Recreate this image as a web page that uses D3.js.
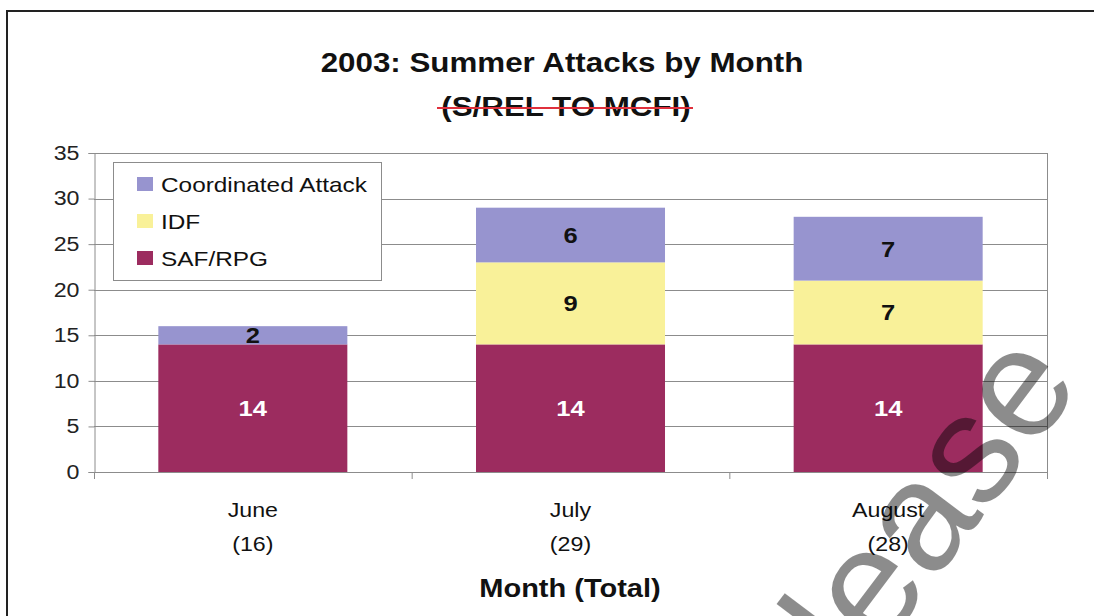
<!DOCTYPE html>
<html>
<head>
<meta charset="utf-8">
<script src="https://cdn.jsdelivr.net/npm/d3@7"></script>
<style>
  html, body { margin: 0; padding: 0; background: #fff; }
  svg { display: block; font-family: "Liberation Sans", Arial, sans-serif; }
</style>
</head>
<body>
<svg id="chart" width="1094" height="616"></svg>
<script>
// Monthly attack counts, stacked by attack type
const months = ["June", "July", "August"];
const seriesNames = ["SAF/RPG", "IDF", "Coordinated Attack"];
const safRpg = [14, 14, 14];
const idf = [0, 9, 7];
const coordinated = [2, 6, 7];
const yTicks = [0, 5, 10, 15, 20, 25, 30, 35];
const legendOrder = ["Coordinated Attack", "IDF", "SAF/RPG"];

const colors = {
  "SAF/RPG": "#9c2c5f",
  "IDF": "#f9f199",
  "Coordinated Attack": "#9794cf"
};
const labelColors = { "SAF/RPG": "#ffffff", "IDF": "#111", "Coordinated Attack": "#111" };

const rows = months.map((m, i) => ({
  month: m,
  "SAF/RPG": safRpg[i],
  "IDF": idf[i],
  "Coordinated Attack": coordinated[i]
}));
const totals = rows.map(r => seriesNames.reduce((s, k) => s + r[k], 0));

const svg = d3.select("#chart");
const SX = 1.16; // horizontal stretch applied to text

const plot = { left: 94, right: 1047, top: 153, bottom: 472 };

const x = d3.scaleBand()
  .domain(months)
  .range([plot.left, plot.right])
  .paddingInner(0.405)
  .paddingOuter(0.2025);

const y = d3.scaleLinear()
  .domain([0, 35])
  .range([plot.bottom, plot.top]);

// Outer frame
svg.append("rect")
  .attr("x", 7).attr("y", 11)
  .attr("width", 1200).attr("height", 800)
  .attr("fill", "#fff")
  .attr("stroke", "#222").attr("stroke-width", 2);

// Title
svg.append("text").attr("class", "s")
  .attr("x", 562).attr("y", 72)
  .attr("text-anchor", "middle")
  .attr("font-size", 27).attr("font-weight", "bold").attr("fill", "#111")
  .text("2003: Summer Attacks by Month");

svg.append("text").attr("class", "s")
  .attr("x", 566).attr("y", 116)
  .attr("text-anchor", "middle")
  .attr("font-size", 27).attr("font-weight", "bold").attr("fill", "#111")
  .text("(S/REL TO MCFI)");

// Strike-through over the caveat line
svg.append("line")
  .attr("x1", 437).attr("x2", 693)
  .attr("y1", 108).attr("y2", 108)
  .attr("stroke", "#e0303c").attr("stroke-width", 2);

// Gridlines
svg.append("g")
  .selectAll("line")
  .data(yTicks)
  .join("line")
  .attr("x1", plot.left).attr("x2", plot.right)
  .attr("y1", d => Math.round(y(d)) + 0.5).attr("y2", d => Math.round(y(d)) + 0.5)
  .attr("stroke", "#8c8c8c").attr("stroke-width", 1);

// Plot area right edge
svg.append("line")
  .attr("x1", plot.right + 0.5).attr("x2", plot.right + 0.5)
  .attr("y1", plot.top).attr("y2", plot.bottom)
  .attr("stroke", "#8c8c8c");

// Y axis
const yAxis = svg.append("g")
  .attr("transform", `translate(${plot.left + 0.5},0)`)
  .call(d3.axisLeft(y).tickValues(yTicks).tickSize(6).tickPadding(9).tickFormat(d3.format("d")));
yAxis.select(".domain").attr("stroke", "#8c8c8c");
yAxis.selectAll(".tick line").attr("stroke", "#8c8c8c");
yAxis.selectAll(".tick text")
  .attr("class", "s")
  .attr("font-size", 20).attr("fill", "#222")
  .attr("font-family", "Liberation Sans, Arial, sans-serif");

// X axis baseline and category boundary ticks
svg.append("line")
  .attr("x1", plot.left).attr("x2", plot.right)
  .attr("y1", plot.bottom + 0.5).attr("y2", plot.bottom + 0.5)
  .attr("stroke", "#8c8c8c");
svg.append("g")
  .selectAll("line")
  .data(d3.range(months.length + 1))
  .join("line")
  .attr("x1", i => plot.left + i * (plot.right - plot.left) / months.length + 0.5)
  .attr("x2", i => plot.left + i * (plot.right - plot.left) / months.length + 0.5)
  .attr("y1", plot.bottom).attr("y2", plot.bottom + 7)
  .attr("stroke", "#8c8c8c");

// Stacked bars
const stack = d3.stack().keys(seriesNames);
const layers = stack(rows);

const layerG = svg.append("g")
  .selectAll("g")
  .data(layers)
  .join("g")
  .attr("fill", d => colors[d.key]);

layerG.selectAll("rect")
  .data(d => d.map(v => ({ key: d.key, v })))
  .join("rect")
  .attr("x", d => x(d.v.data.month))
  .attr("width", x.bandwidth())
  .attr("y", d => y(d.v[1]))
  .attr("height", d => y(d.v[0]) - y(d.v[1]));

// Segment value labels
layerG.selectAll("text")
  .data(d => d.map(v => ({ key: d.key, v })).filter(d => d.v[1] - d.v[0] > 0))
  .join("text")
  .attr("class", "s")
  .attr("x", d => x(d.v.data.month) + x.bandwidth() / 2)
  .attr("y", d => (y(d.v[0]) + y(d.v[1])) / 2)
  .attr("dy", "0.36em")
  .attr("text-anchor", "middle")
  .attr("font-size", 22).attr("font-weight", "bold")
  .attr("fill", d => labelColors[d.key])
  .text(d => d.v[1] - d.v[0]);

// Category labels with totals
const catG = svg.append("g");
months.forEach((m, i) => {
  const cx = x(m) + x.bandwidth() / 2;
  catG.append("text").attr("class", "s")
    .attr("x", cx).attr("y", 517)
    .attr("text-anchor", "middle").attr("font-size", 20).attr("fill", "#111")
    .text(m);
  catG.append("text").attr("class", "s")
    .attr("x", cx).attr("y", 551)
    .attr("text-anchor", "middle").attr("font-size", 20).attr("fill", "#111")
    .text(`(${totals[i]})`);
});

// X axis title
svg.append("text").attr("class", "s")
  .attr("x", 570).attr("y", 597)
  .attr("text-anchor", "middle")
  .attr("font-size", 25).attr("font-weight", "bold").attr("fill", "#111")
  .text("Month (Total)");

// Legend
const legend = svg.append("g");
legend.append("rect")
  .attr("x", 113.5).attr("y", 162.5)
  .attr("width", 268).attr("height", 118)
  .attr("fill", "#fff").attr("stroke", "#8c8c8c");
legendOrder.forEach((k, i) => {
  const cy = 184 + i * 37;
  legend.append("rect")
    .attr("x", 137).attr("y", cy - 7)
    .attr("width", 16).attr("height", 14)
    .attr("fill", colors[k]);
  legend.append("text").attr("class", "s")
    .attr("x", 161).attr("y", cy).attr("dy", "0.36em")
    .attr("font-size", 21).attr("fill", "#111")
    .text(k);
});

// Release watermark
svg.append("text")
  .attr("transform", "translate(1083,384) rotate(-53)")
  .attr("text-anchor", "end")
  .attr("font-size", 155)
  .attr("fill", "#000").attr("fill-opacity", 0.45)
  .text("release");

// Widen text horizontally to the chart's proportions
svg.selectAll("text.s").each(function () {
  const w = this.getComputedTextLength();
  d3.select(this).attr("textLength", w * SX).attr("lengthAdjust", "spacingAndGlyphs");
});
</script>
</body>
</html>
